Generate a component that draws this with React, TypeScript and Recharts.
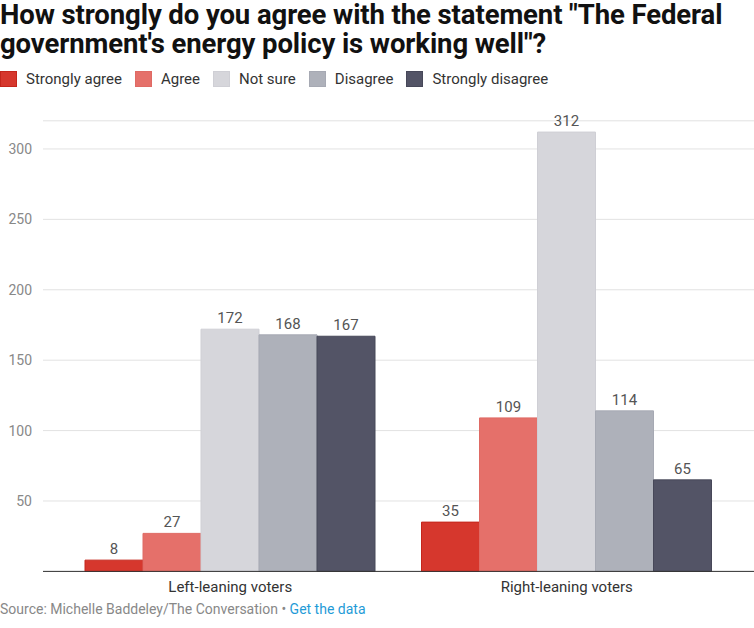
import React from "react";
import { BarChart, Bar, XAxis, YAxis, CartesianGrid, LabelList } from "recharts";

const categories = ["Left-leaning voters", "Right-leaning voters"];
const seriesNames = ["Strongly agree", "Agree", "Not sure", "Disagree", "Strongly disagree"];
const stronglyAgree = [8, 35];
const agree = [27, 109];
const notSure = [172, 312];
const disagree = [168, 114];
const stronglyDisagree = [167, 65];
const yTicks = [50, 100, 150, 200, 250, 300];
const titleLines = ["How strongly do you agree with the statement \"The Federal", "government's energy policy is working well\"?"];

const colors = ["#d6372d", "#e5706a", "#d6d6db", "#aeb1ba", "#535466"];
const strokes = ["#c4261c", "#df6a64", "#cfcfd5", "#a6a9b3", "#474859"];
const keys = ["sa", "a", "ns", "d", "sd"];

const data = categories.map((c, i) => ({
  name: c,
  sa: stronglyAgree[i],
  a: agree[i],
  ns: notSure[i],
  d: disagree[i],
  sd: stronglyDisagree[i],
}));

const FONT = "Roboto, 'Noto Sans', sans-serif";

export default function App() {
  return (
    <div style={{ position: "relative", width: 754, height: 628, fontFamily: FONT, background: "#fff", overflow: "hidden" }}>
      <style>{"body{margin:0;}"}</style>
      <div style={{ position: "absolute", left: 0, top: 0, fontSize: 27.5, fontWeight: 700, lineHeight: "29px", color: "#111", letterSpacing: -0.1 }}>
        {titleLines.map((t) => (
          <div key={t} style={{ whiteSpace: "nowrap" }}>{t}</div>
        ))}
      </div>
      <div style={{ position: "absolute", left: 0, top: 70, display: "flex", alignItems: "center", fontSize: 15, color: "#333" }}>
        {seriesNames.map((n, i) => (
          <div key={n} style={{ display: "flex", alignItems: "center", marginRight: 13 }}>
            <div style={{ width: 17, height: 16, background: colors[i], border: `1px solid ${strokes[i]}`, boxSizing: "border-box", marginRight: 9 }} />
            <span>{n}</span>
          </div>
        ))}
      </div>
      <div style={{ position: "absolute", left: 0, top: 0 }}>
        <BarChart
          width={754}
          height={628}
          data={data}
          margin={{ top: 120.8, right: 0, bottom: 26.6, left: 0 }}
          barCategoryGap={23}
          barGap={0}
        >
          <CartesianGrid vertical={false} stroke="#e2e2e2" strokeWidth={1} />
          <YAxis
            width={43}
            domain={[0, 320]}
            ticks={yTicks}
            axisLine={false}
            tickLine={false}
            tickSize={6}
            tickMargin={5}
            tick={{ fill: "#888", fontSize: 14, fontFamily: FONT }}
            interval={0}
          />
          <XAxis
            dataKey="name"
            height={30}
            padding={{ left: 19, right: 19 }}
            axisLine={{ stroke: "#333", strokeWidth: 1 }}
            tickLine={false}
            tickSize={6}
            tickMargin={4}
            tick={{ fill: "#333", fontSize: 15, fontFamily: FONT }}
          />
          {keys.map((k, i) => (
            <Bar key={k} dataKey={k} name={seriesNames[i]} fill={colors[i]} stroke={strokes[i]} strokeWidth={1} isAnimationActive={false}>
              <LabelList dataKey={k} position="top" offset={6} fill="#555" fontSize={15} fontFamily={FONT} />
            </Bar>
          ))}
        </BarChart>
      </div>
      <div style={{ position: "absolute", left: 0, top: 601, fontSize: 14, color: "#888" }}>
        Source: Michelle Baddeley/The Conversation • <span style={{ color: "#1f9bd7" }}>Get the data</span>
      </div>
    </div>
  );
}
